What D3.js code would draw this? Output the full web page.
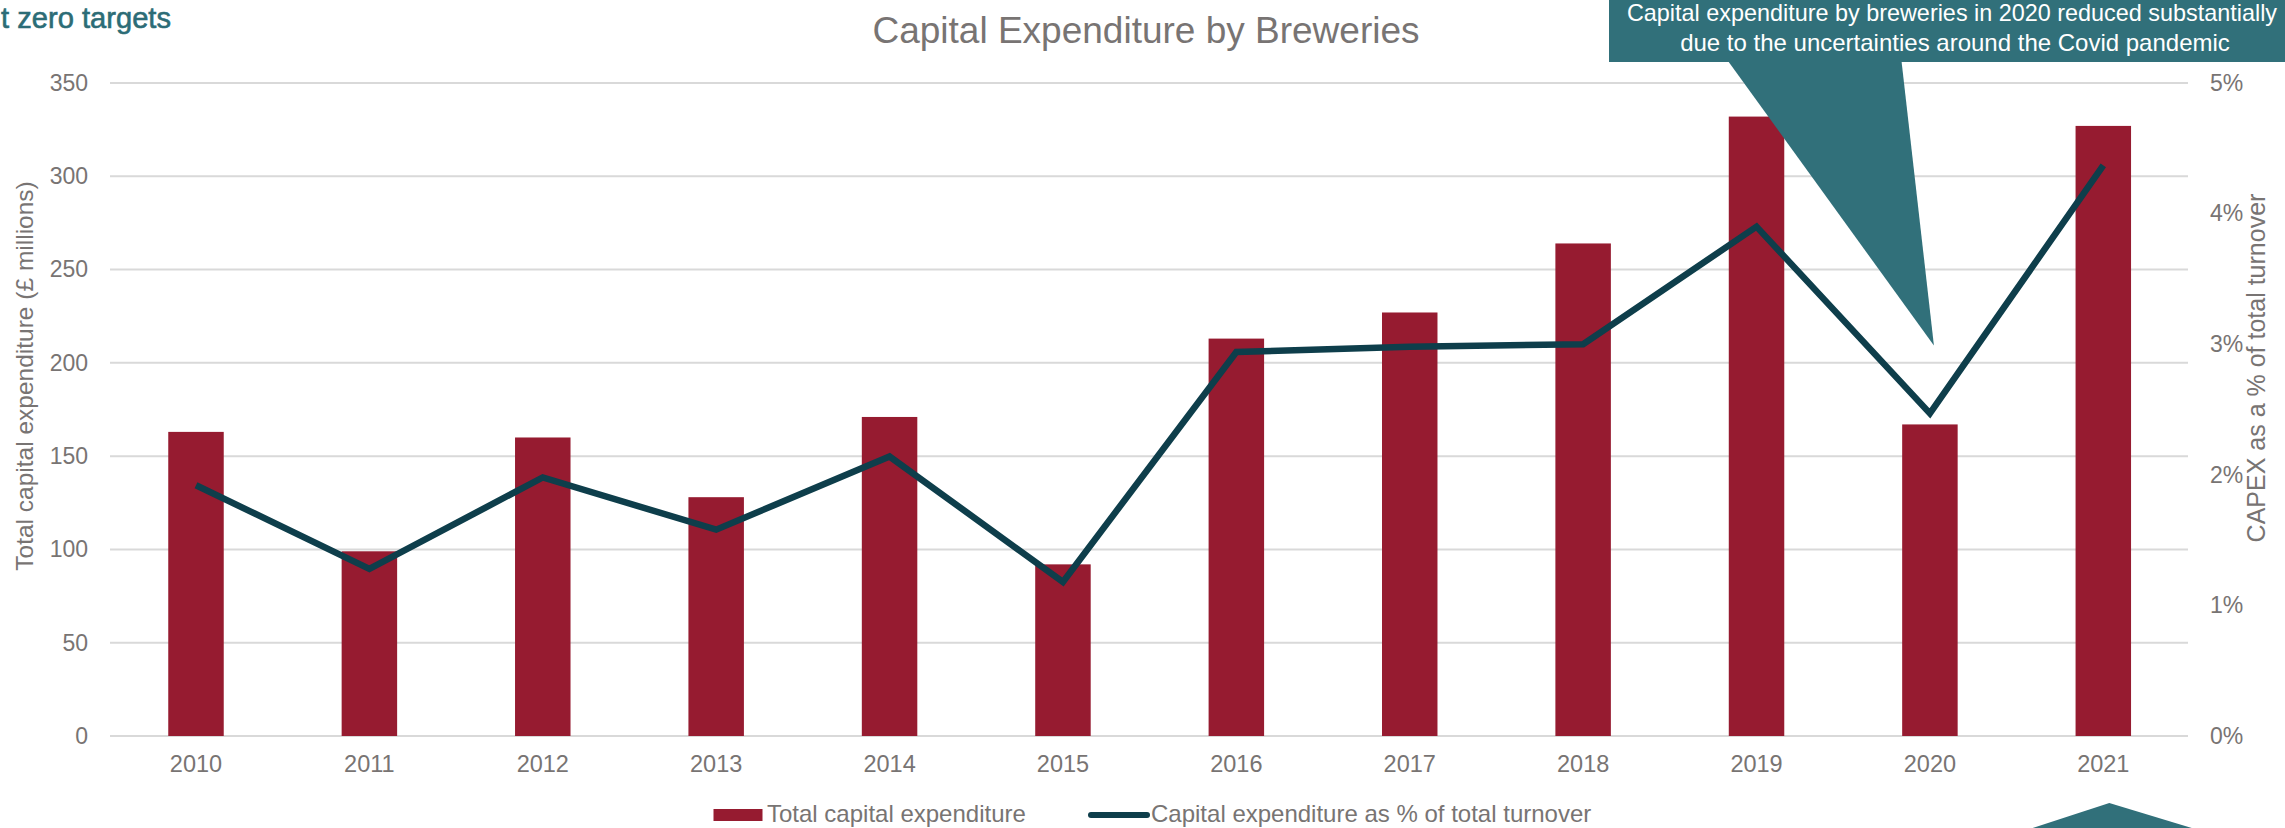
<!DOCTYPE html>
<html>
<head>
<meta charset="utf-8">
<script src="https://cdn.jsdelivr.net/npm/d3@7"></script>
<style>
  html, body { margin: 0; padding: 0; background: #ffffff; overflow: hidden; }
  svg { display: block; font-family: "Liberation Sans", Arial, sans-serif; }
</style>
</head>
<body>
<svg id="chart" width="2285" height="828"></svg>
<script>
// Brewery capital expenditure, 2010-2021
const years = ["2010","2011","2012","2013","2014","2015","2016","2017","2018","2019","2020","2021"];
const capex = [163, 99, 160, 128, 171, 92, 213, 227, 264, 332, 167, 327];          // £ millions
const capexShare = [1.92, 1.28, 1.98, 1.58, 2.14, 1.18, 2.94, 2.98, 3.00, 3.90, 2.47, 4.37]; // % of turnover
const leftTicks = [0, 50, 100, 150, 200, 250, 300, 350];
const rightTicks = [0, 1, 2, 3, 4, 5];

const chartTitle = "Capital Expenditure by Breweries";
const leftTitle = "Total capital expenditure (£ millions)";
const rightTitle = "CAPEX as a % of total turnover";
const legendLabels = ["Total capital expenditure", "Capital expenditure as % of total turnover"];
const noteLines = ["Capital expenditure by breweries in 2020 reduced substantially",
                   "due to the uncertainties around the Covid pandemic"];
const headingFragment = "t zero targets";

const BAR = "#961b30", LINE = "#0e3e4b", GRID = "#d9d9d9", TEXT = "#787473", TEAL = "#31707a";

const svg = d3.select("#chart");

const x = d3.scaleBand().domain(years).range([109.3, 2190]).paddingInner(0.68).paddingOuter(0.34);
const y = d3.scaleLinear().domain([0, 350]).range([736, 83]);
const y2 = d3.scaleLinear().domain([0, 5]).range([736, 83]);

// heading fragment at top-left
svg.append("text")
  .attr("x", 1).attr("y", 27.5)
  .attr("fill", "#2c6c76").attr("stroke", "#2c6c76").attr("stroke-width", 0.6)
  .style("font-family", "'Liberation Sans Narrow', 'Liberation Sans', sans-serif")
  .style("font-size", "30px")
  .attr("textLength", 170).attr("lengthAdjust", "spacingAndGlyphs")
  .text(headingFragment);

// gridlines
const gx0 = 110, gx1 = 2188;
svg.append("g").selectAll("line").data(leftTicks).join("line")
  .attr("x1", gx0).attr("x2", gx1)
  .attr("y1", d => y(d)).attr("y2", d => y(d))
  .attr("stroke", GRID).attr("stroke-width", 2);

// left axis labels
const leftAxis = d3.axisLeft(y).tickValues(leftTicks).tickSize(0).tickPadding(0);
const gl = svg.append("g").attr("transform", "translate(88,0)").call(leftAxis);
gl.select(".domain").remove();
gl.selectAll("text").attr("fill", TEXT).style("font-size", "23px").style("font-family", "'Liberation Sans', Arial, sans-serif");

// right axis labels
const rightAxis = d3.axisRight(y2).tickValues(rightTicks).tickSize(0).tickPadding(0).tickFormat(d => d + "%");
const gr = svg.append("g").attr("transform", "translate(2210,0)").call(rightAxis);
gr.select(".domain").remove();
gr.selectAll("text").attr("fill", TEXT).style("font-size", "23px").style("font-family", "'Liberation Sans', Arial, sans-serif");

// x axis labels
const bottomAxis = d3.axisBottom(x).tickSize(0).tickPadding(0);
const gb = svg.append("g").attr("transform", "translate(0,755)").call(bottomAxis);
gb.select(".domain").remove();
gb.selectAll("text").attr("fill", TEXT).attr("dy", "0.71em").style("font-size", "23.5px").style("font-family", "'Liberation Sans', Arial, sans-serif");

// bars
svg.append("g").selectAll("rect").data(years).join("rect")
  .attr("x", d => x(d)).attr("width", x.bandwidth())
  .attr("y", (d, i) => y(capex[i])).attr("height", (d, i) => y(0) - y(capex[i]))
  .attr("fill", BAR);

// share line
const line = d3.line().x((d, i) => x(years[i]) + x.bandwidth() / 2).y(d => y2(d));
svg.append("path").datum(capexShare)
  .attr("d", line).attr("fill", "none")
  .attr("stroke", LINE).attr("stroke-width", 6.5).attr("stroke-linejoin", "miter");

// title
svg.append("text").attr("x", 1146).attr("y", 42.5).attr("text-anchor", "middle")
  .attr("fill", TEXT).style("font-size", "37px").text(chartTitle);

// axis titles
svg.append("text").attr("transform", "translate(33,376) rotate(-90)").attr("text-anchor", "middle")
  .attr("fill", TEXT).style("font-size", "24.5px").text(leftTitle);
svg.append("text").attr("transform", "translate(2265,368) rotate(-90)").attr("text-anchor", "middle")
  .attr("fill", TEXT).style("font-size", "25px").text(rightTitle);

// legend
const lg = svg.append("g");
lg.append("rect").attr("x", 713.5).attr("y", 809).attr("width", 49).attr("height", 12).attr("fill", BAR);
lg.append("text").attr("x", 767).attr("y", 822).attr("fill", TEXT).style("font-size", "24px").text(legendLabels[0]);
lg.append("line").attr("x1", 1091).attr("x2", 1147).attr("y1", 815).attr("y2", 815)
  .attr("stroke", LINE).attr("stroke-width", 6).attr("stroke-linecap", "round");
lg.append("text").attr("x", 1151).attr("y", 822).attr("fill", TEXT).style("font-size", "24px").text(legendLabels[1]);

// 2020 callout box with its pointer
const note = svg.append("g");
note.append("rect").attr("x", 1609).attr("y", -10).attr("width", 700).attr("height", 72).attr("fill", TEAL);
const tipX = x("2020") + x.bandwidth() / 2 + 4, tipY = y2(2.99);
note.append("path")
  .attr("d", `M1728,61 L${tipX},${tipY} L1901.5,61 Z`).attr("fill", TEAL);
note.selectAll("text").data(noteLines).join("text")
  .attr("x", (d, i) => i === 0 ? 1952 : 1955).attr("y", (d, i) => 21 + i * 29.5).attr("text-anchor", "middle")
  .attr("fill", "#ffffff").style("font-size", (d, i) => i === 0 ? "23.4px" : "24px").text(d => d);

// pointer of the next callout, peeking in at the bottom
const peakX = x("2021") + x.bandwidth() / 2 + 6;
svg.append("path")
  .attr("d", `M${peakX},803 L2200,830.5 L2025,830.5 Z`).attr("fill", TEAL);
</script>
</body>
</html>
